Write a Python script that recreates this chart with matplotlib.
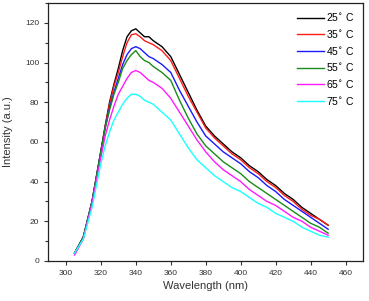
import numpy as np
import matplotlib
matplotlib.use("Agg")
import matplotlib.pyplot as plt
from matplotlib.ticker import MultipleLocator

plt.rcParams['font.family'] = ['Liberation Sans', 'DejaVu Sans']

wavelength = [305, 310, 315, 320, 322.5, 325, 327.5, 330, 332.5, 335, 337.5,
              340, 342.5, 345, 347.5, 350, 355, 360, 365, 370, 375, 380, 385,
              390, 395, 400, 405, 410, 415, 420, 425, 430, 435, 440, 445, 450]

t25 = [4, 12, 30, 55, 68, 80, 89, 97, 106, 113, 116, 117, 115, 113, 113, 111,
       108, 103, 94, 85, 76, 68, 63, 59, 55, 52, 48, 45, 41, 38, 34, 31, 27,
       24, 21, 18]
t35 = [4, 12, 30, 55, 68, 79, 88, 95, 103, 110, 114, 114.5, 113, 111, 110,
       109, 106, 101, 92, 83, 75, 67, 62, 58, 54, 51, 47, 44, 40, 37, 33, 30,
       26, 23, 21, 18]
t45 = [4, 12, 30, 55, 67, 77, 85, 92, 99, 104, 107, 108, 107, 105, 103, 102,
       99, 95, 86, 78, 70, 63, 59, 55, 52, 49, 45, 42, 38, 35, 31, 28, 25, 22,
       19, 16]
t55 = [4, 12, 30, 55, 67, 76, 84, 90, 97, 101, 104, 106, 103, 101, 100, 98,
       95, 91, 81, 72, 64, 58, 54, 50, 47, 44, 40, 37, 34, 31, 28, 25, 22, 19,
       17, 14]
t65 = [3, 11, 29, 52, 63, 71, 78, 84, 88, 92, 95, 96, 95, 93, 91, 90, 87, 82,
       75, 68, 61, 55, 50, 46, 43, 40, 36, 33, 30, 28, 25, 22, 20, 17, 15, 13]
t75 = [4, 11, 27, 49, 58, 65, 71, 75, 79, 82, 84, 84, 83, 81, 80, 79, 75, 71,
       64, 57, 51, 47, 43, 40, 37, 35, 32, 29, 27, 24, 22, 20, 17, 15, 13, 12]

series = [t25, t35, t45, t55, t65, t75]
labels = ['25$^{\\circ}$ C', '35$^{\\circ}$ C', '45$^{\\circ}$ C',
          '55$^{\\circ}$ C', '65$^{\\circ}$ C', '75$^{\\circ}$ C']
colors = ['#000000', '#ff1a1a', '#1a1aff', '#1a8a1a', '#ff1aff', '#1affff']

fig = plt.figure(figsize=(3.69, 3.01), dpi=100)
ax = fig.add_axes([0.131, 0.133, 0.853, 0.857])

for y, lab, c in zip(series, labels, colors):
    ax.plot(wavelength, y, color=c, lw=1.0, label=lab)

ax.set_xlim(290, 470)
ax.set_ylim(0, 130)
ax.xaxis.set_major_locator(MultipleLocator(20))
ax.yaxis.set_major_locator(MultipleLocator(20))
ax.yaxis.set_minor_locator(MultipleLocator(10))
ax.tick_params(axis='both', which='major', direction='out', length=3,
               labelsize=6, colors='#333333', width=0.8)
ax.tick_params(axis='y', which='minor', direction='out', length=2, width=0.8,
               colors='#333333')
for s in ax.spines.values():
    s.set_linewidth(0.9)
    s.set_color('#222222')

ax.set_xlabel('Wavelength (nm)', fontsize=8, color='#333333', labelpad=3)
ax.set_ylabel('Intensity (a.u.)', fontsize=8, color='#333333', labelpad=9)

ax.legend(loc='upper right', frameon=False, fontsize=7.5, handlelength=2.6,
          handletextpad=0.2, labelspacing=0.45, borderaxespad=0.4)

fig.savefig('out.png', dpi=100)
